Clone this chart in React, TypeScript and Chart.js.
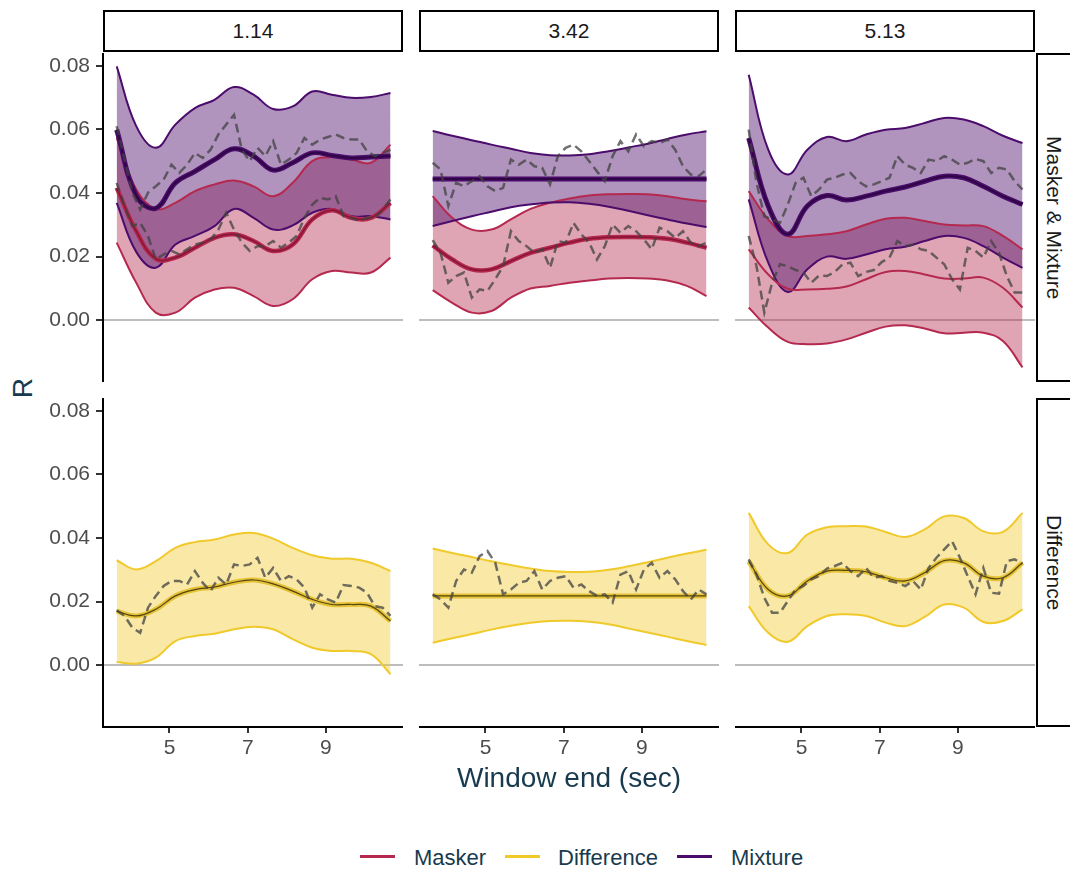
import React, { useEffect, useRef } from "react";
import { Chart, registerables } from "chart.js";

Chart.register(...registerables);

const FONT = '"Liberation Sans", Arial, Helvetica, sans-serif';
Chart.defaults.font.family = FONT;

// ---------- categories / ticks ----------
const facetColumns = ["1.14", "3.42", "5.13"];
const facetRows = ["Masker & Mixture", "Difference"];
const legendLabels = ["Masker", "Difference", "Mixture"];
const xTickValues = [5, 7, 9];
const yTickValues = [0, 0.02, 0.04, 0.06, 0.08];
const xTitle = "Window end (sec)";
const yTitle = "R";

// ---------- x positions ----------
const smoothX = [3.65, 4.15, 4.65, 5.15, 5.65, 6.15, 6.65, 7.15, 7.65, 8.15, 8.65, 9.15, 9.65, 10.15, 10.65];
const rawX = [
  3.65, 3.85, 4.05, 4.25, 4.45, 4.65, 4.85, 5.05, 5.25, 5.45,
  5.65, 5.85, 6.05, 6.25, 6.45, 6.65, 6.85, 7.05, 7.25, 7.45,
  7.65, 7.85, 8.05, 8.25, 8.45, 8.65, 8.85, 9.05, 9.25, 9.45,
  9.65, 9.85, 10.05, 10.25, 10.45, 10.65,
];

// ---------- facet 1.14 ----------
const mixUp114 = [0.0798, 0.061, 0.0542, 0.0615, 0.0667, 0.0693, 0.0733, 0.0709, 0.0664, 0.0672, 0.0719, 0.0709, 0.0699, 0.0702, 0.0714];
const mixMean114 = [0.0599, 0.0392, 0.0352, 0.0432, 0.0468, 0.0505, 0.0539, 0.0516, 0.0472, 0.0495, 0.0526, 0.0518, 0.051, 0.0513, 0.0516];
const mixLow114 = [0.0369, 0.0215, 0.0165, 0.0238, 0.0265, 0.0296, 0.035, 0.0322, 0.0285, 0.0298, 0.0338, 0.035, 0.0327, 0.0327, 0.0317];
const maskUp114 = [0.0573, 0.0411, 0.035, 0.0369, 0.0406, 0.0427, 0.0439, 0.0421, 0.039, 0.0432, 0.05, 0.0513, 0.0505, 0.0495, 0.0552];
const maskMean114 = [0.0416, 0.028, 0.0193, 0.0197, 0.0228, 0.0259, 0.027, 0.0249, 0.0218, 0.0238, 0.0317, 0.0346, 0.0322, 0.0322, 0.0369];
const maskLow114 = [0.0244, 0.0118, 0.0024, 0.0024, 0.0071, 0.0097, 0.0102, 0.0076, 0.0045, 0.0066, 0.0129, 0.0155, 0.015, 0.015, 0.0197];
const mixRaw114 = [
  0.061, 0.0505, 0.0401, 0.0348, 0.0401, 0.0421, 0.0442, 0.0489, 0.0463, 0.0489,
  0.0526, 0.051, 0.0536, 0.0584, 0.0615, 0.0646, 0.0536, 0.05, 0.0542, 0.0516,
  0.0563, 0.0489, 0.0505, 0.0526, 0.0573, 0.0552, 0.0568, 0.0576, 0.0584, 0.0573,
  0.0568, 0.0568, 0.0531, 0.0516, 0.0526, 0.0536,
];
const maskRaw114 = [
  0.0432, 0.0359, 0.0296, 0.0306, 0.0265, 0.0191, 0.0207, 0.0218, 0.0207, 0.0223,
  0.0238, 0.0244, 0.0254, 0.0285, 0.0338, 0.0285, 0.0244, 0.0218, 0.0233, 0.0233,
  0.0249, 0.0228, 0.0244, 0.0265, 0.0322, 0.0364, 0.0385, 0.038, 0.039, 0.0327,
  0.0322, 0.0312, 0.0322, 0.0322, 0.0348, 0.038,
];

// ---------- facet 3.42 ----------
const mixUp342 = [0.0595, 0.058, 0.0566, 0.0552, 0.0539, 0.0526, 0.0519, 0.0518, 0.0522, 0.0531, 0.0543, 0.0555, 0.057, 0.0584, 0.0594];
const mixMean342 = [0.0444, 0.0444, 0.0444, 0.0444, 0.0444, 0.0444, 0.0444, 0.0444, 0.0444, 0.0444, 0.0444, 0.0444, 0.0444, 0.0444, 0.0444];
const mixLow342 = [0.0296, 0.0312, 0.0327, 0.0341, 0.0355, 0.0364, 0.037, 0.0371, 0.0366, 0.0357, 0.0344, 0.033, 0.0317, 0.0304, 0.0293];
const maskUp342 = [0.039, 0.0322, 0.0285, 0.0285, 0.0317, 0.035, 0.0369, 0.0383, 0.0392, 0.0396, 0.0397, 0.0396, 0.039, 0.038, 0.0374];
const maskMean342 = [0.0235, 0.0191, 0.016, 0.016, 0.0186, 0.0212, 0.0228, 0.0244, 0.0256, 0.0261, 0.0262, 0.0261, 0.0256, 0.0244, 0.0228];
const maskLow342 = [0.0095, 0.0055, 0.0024, 0.0029, 0.0071, 0.01, 0.0108, 0.0118, 0.0125, 0.0131, 0.0133, 0.0131, 0.0125, 0.0108, 0.0076];
const mixRaw342 = [
  0.0495, 0.0474, 0.0359, 0.0432, 0.0421, 0.0437, 0.0453, 0.0421, 0.0406, 0.0416,
  0.0505, 0.0489, 0.0505, 0.0484, 0.0479, 0.0427, 0.0516, 0.0542, 0.0552, 0.0531,
  0.05, 0.0468, 0.0437, 0.0516, 0.0563, 0.0531, 0.0584, 0.0547, 0.0563, 0.0557,
  0.0568, 0.0536, 0.0484, 0.0458, 0.0453, 0.0474,
];
const maskRaw342 = [
  0.0252, 0.0212, 0.0118, 0.0139, 0.015, 0.0071, 0.0097, 0.0092, 0.0129, 0.017,
  0.028, 0.0249, 0.0233, 0.0212, 0.0223, 0.0165, 0.0249, 0.0244, 0.0306, 0.027,
  0.0244, 0.0191, 0.0233, 0.0301, 0.0275, 0.0296, 0.028, 0.0254, 0.0223, 0.0291,
  0.028, 0.0259, 0.028, 0.0244, 0.0233, 0.0244,
];

// ---------- facet 5.13 ----------
const mixUp513 = [0.0772, 0.0536, 0.0458, 0.0536, 0.0576, 0.0563, 0.0584, 0.0599, 0.0604, 0.062, 0.0636, 0.0631, 0.061, 0.058, 0.0557];
const mixMean513 = [0.0573, 0.0359, 0.027, 0.0359, 0.0392, 0.0378, 0.039, 0.0406, 0.0419, 0.0437, 0.0453, 0.0448, 0.0421, 0.039, 0.0364];
const mixLow513 = [0.038, 0.0181, 0.0089, 0.016, 0.02, 0.0193, 0.0207, 0.0223, 0.0231, 0.0249, 0.0265, 0.0259, 0.0233, 0.0197, 0.0165];
const maskUp513 = [0.0406, 0.0317, 0.0265, 0.0265, 0.027, 0.028, 0.0301, 0.0319, 0.0322, 0.0312, 0.0301, 0.0298, 0.0296, 0.0265, 0.0223];
const maskMean513 = [0.0223, 0.0144, 0.0099, 0.0097, 0.0099, 0.0106, 0.0129, 0.0152, 0.0155, 0.0144, 0.0131, 0.0131, 0.0134, 0.0102, 0.004];
const maskLow513 = [0.004, -0.0023, -0.0068, -0.0075, -0.0073, -0.006, -0.0039, -0.002, -0.0016, -0.0026, -0.0041, -0.0039, -0.0039, -0.0065, -0.0148];
const mixRaw513 = [
  0.0599, 0.0432, 0.0327, 0.0317, 0.0306, 0.0364, 0.0432, 0.0448, 0.039, 0.0411,
  0.0442, 0.0448, 0.0458, 0.0463, 0.0437, 0.0421, 0.0427, 0.0437, 0.0448, 0.0516,
  0.0489, 0.0479, 0.0463, 0.0505, 0.05, 0.0516, 0.0505, 0.0489, 0.0495, 0.0507,
  0.05, 0.0463, 0.0479, 0.0474, 0.0437, 0.0411,
];
const maskRaw513 = [
  0.0265, 0.017, 0.0024, 0.0118, 0.0176, 0.017, 0.0158, 0.015, 0.0118, 0.0141,
  0.0139, 0.0152, 0.0176, 0.0181, 0.0139, 0.0152, 0.0158, 0.0183, 0.0197, 0.0249,
  0.0233, 0.0238, 0.0223, 0.0218, 0.0197, 0.0176, 0.0129, 0.0097, 0.0228, 0.0218,
  0.0197, 0.0249, 0.0212, 0.0139, 0.0087, 0.0087,
];

// ---------- Difference ----------
const diffUp114 = [0.033, 0.0301, 0.0327, 0.0369, 0.0387, 0.0395, 0.0411, 0.0416, 0.0398, 0.0369, 0.0346, 0.0335, 0.0335, 0.0322, 0.0296];
const diffMean114 = [0.017, 0.0155, 0.0176, 0.0218, 0.0238, 0.0246, 0.0261, 0.0268, 0.0256, 0.0233, 0.0207, 0.0191, 0.0191, 0.0186, 0.0139];
const diffLow114 = [0.001, 0.0005, 0.0024, 0.0076, 0.0092, 0.0099, 0.0113, 0.0121, 0.0113, 0.0082, 0.0055, 0.0045, 0.0045, 0.0035, -0.0028];
const diffRaw114 = [
  0.0173, 0.0155, 0.0118, 0.0102, 0.0181, 0.0218, 0.0249, 0.0265, 0.0265, 0.0254,
  0.0296, 0.0259, 0.0233, 0.0275, 0.0254, 0.0317, 0.0312, 0.0317, 0.0338, 0.0275,
  0.0306, 0.0265, 0.028, 0.027, 0.0244, 0.0181, 0.0223, 0.0207, 0.0197, 0.0252,
  0.0249, 0.0244, 0.0228, 0.0186, 0.0181, 0.0155,
];
const diffUp342 = [0.0367, 0.0353, 0.034, 0.0327, 0.0315, 0.0304, 0.0296, 0.0293, 0.0294, 0.03, 0.0311, 0.0324, 0.0338, 0.0351, 0.0363];
const diffMean342 = [0.0218, 0.0218, 0.0218, 0.0218, 0.0218, 0.0218, 0.0218, 0.0218, 0.0218, 0.0218, 0.0218, 0.0218, 0.0218, 0.0218, 0.0218];
const diffLow342 = [0.0071, 0.0085, 0.0098, 0.0112, 0.0124, 0.0134, 0.0139, 0.014, 0.0137, 0.0129, 0.0116, 0.0103, 0.009, 0.0076, 0.0064];
const diffRaw342 = [
  0.0223, 0.0207, 0.0181, 0.0265, 0.0301, 0.0291, 0.0343, 0.0359, 0.0322, 0.0223,
  0.0238, 0.0259, 0.0265, 0.0296, 0.0238, 0.0265, 0.0275, 0.028, 0.0244, 0.0254,
  0.0233, 0.0218, 0.0223, 0.0197, 0.0285, 0.0296, 0.0238, 0.0301, 0.0322, 0.0275,
  0.0296, 0.027, 0.0233, 0.0207, 0.0238, 0.0223,
];
const diffUp513 = [0.0479, 0.038, 0.0353, 0.0411, 0.0434, 0.0437, 0.0436, 0.0419, 0.0403, 0.0427, 0.0468, 0.0463, 0.0421, 0.0419, 0.0479];
const diffMean513 = [0.0327, 0.0238, 0.0218, 0.0265, 0.0296, 0.0298, 0.0294, 0.0275, 0.0265, 0.0291, 0.0329, 0.0322, 0.028, 0.0275, 0.0322];
const diffLow513 = [0.0186, 0.0102, 0.0074, 0.0123, 0.0155, 0.016, 0.0155, 0.0134, 0.0123, 0.0152, 0.0191, 0.0181, 0.0136, 0.0139, 0.0176];
const diffRaw513 = [
  0.0333, 0.0285, 0.0212, 0.0165, 0.0165, 0.0202, 0.0238, 0.0249, 0.027, 0.028,
  0.0304, 0.0312, 0.0322, 0.0296, 0.028, 0.0306, 0.0275, 0.028, 0.0265, 0.0259,
  0.0249, 0.0265, 0.0238, 0.0306, 0.0338, 0.0364, 0.039, 0.0338, 0.028, 0.0223,
  0.0306, 0.0228, 0.0225, 0.0327, 0.0333, 0.0319,
];

// ---------- styling / layout ----------
const MASKER = "#b5294f";
const MIXTURE = "#4b0c6b";
const DIFF = "#f0c92b";
const MASKER_FILL = "rgba(181,41,79,0.42)";
const MIXTURE_FILL = "rgba(75,12,107,0.44)";
const DIFF_FILL = "rgba(240,201,43,0.42)";
const RAW_COLOR = "rgba(65,65,65,0.75)";
const TITLE_COLOR = "#173a4e";
const TICK_COLOR = "#4d4d4d";

const X_MIN = 3.3;
const X_MAX = 10.97;
const Y_MIN = -0.0194;
const Y_MAX = 0.084;

const COL_LEFT = [103, 419, 735];
const PANEL_W = 300;
const ROW_TOP = [53, 398];
const PANEL_H = 329;
const Y_AXIS_W = 63;
const X_AXIS_H = 60;

type Pt = { x: number; y: number };
const pts = (xs: number[], ys: number[]): Pt[] => xs.map((x, i) => ({ x, y: ys[i] }));

const smooth = (data: Pt[], color: string, width: number, extra: any = {}) => ({
  data,
  borderColor: color,
  backgroundColor: color,
  borderWidth: width,
  pointRadius: 0,
  pointHoverRadius: 0,
  tension: 0.4,
  fill: false,
  ...extra,
});
const raw = (data: Pt[]) => ({
  data,
  borderColor: RAW_COLOR,
  borderWidth: 2.5,
  borderDash: [9, 5],
  pointRadius: 0,
  pointHoverRadius: 0,
  tension: 0,
  fill: false,
});

function mmDatasets(
  mixUp: number[], mixMean: number[], mixLow: number[],
  maskUp: number[], maskMean: number[], maskLow: number[],
  mixRaw: number[], maskRaw: number[], maskBold: boolean
) {
  const list: any[] = [];
  list.push(raw(pts(rawX, maskRaw)));
  list.push(raw(pts(rawX, mixRaw)));
  list.push(smooth(pts(smoothX, mixMean), "rgba(25,0,40,0.55)", 2));
  list.push(smooth(pts(smoothX, mixMean), MIXTURE, 5));
  if (maskBold) {
    list.push(smooth(pts(smoothX, maskMean), "rgba(95,0,30,0.5)", 1.6));
    list.push(smooth(pts(smoothX, maskMean), MASKER, 4.5));
  } else {
    list.push(smooth(pts(smoothX, maskMean), MASKER, 2));
  }
  list.push(smooth(pts(smoothX, mixUp), MIXTURE, 2, { fill: "+1", backgroundColor: MIXTURE_FILL }));
  list.push(smooth(pts(smoothX, mixLow), MIXTURE, 2));
  list.push(smooth(pts(smoothX, maskUp), MASKER, 2, { fill: "+1", backgroundColor: MASKER_FILL }));
  list.push(smooth(pts(smoothX, maskLow), MASKER, 2));
  return list;
}

function diffDatasets(up: number[], mean: number[], low: number[], rawY: number[]) {
  return [
    raw(pts(rawX, rawY)),
    smooth(pts(smoothX, mean), "rgba(35,28,0,0.75)", 1.2),
    smooth(pts(smoothX, mean), "#e6c236", 5),
    smooth(pts(smoothX, up), DIFF, 2, { fill: "+1", backgroundColor: DIFF_FILL }),
    smooth(pts(smoothX, low), DIFF, 2),
  ];
}

const panels = [
  { row: 0, col: 0, datasets: () => mmDatasets(mixUp114, mixMean114, mixLow114, maskUp114, maskMean114, maskLow114, mixRaw114, maskRaw114, true) },
  { row: 0, col: 1, datasets: () => mmDatasets(mixUp342, mixMean342, mixLow342, maskUp342, maskMean342, maskLow342, mixRaw342, maskRaw342, true) },
  { row: 0, col: 2, datasets: () => mmDatasets(mixUp513, mixMean513, mixLow513, maskUp513, maskMean513, maskLow513, mixRaw513, maskRaw513, false) },
  { row: 1, col: 0, datasets: () => diffDatasets(diffUp114, diffMean114, diffLow114, diffRaw114) },
  { row: 1, col: 1, datasets: () => diffDatasets(diffUp342, diffMean342, diffLow342, diffRaw342) },
  { row: 1, col: 2, datasets: () => diffDatasets(diffUp513, diffMean513, diffLow513, diffRaw513) },
];

function makeOptions(showX: boolean, showY: boolean): any {
  return {
    animation: false,
    responsive: false,
    maintainAspectRatio: false,
    devicePixelRatio: 1,
    events: [],
    layout: { padding: 0 },
    plugins: {
      legend: { display: false },
      tooltip: { enabled: false },
      filler: { drawTime: "beforeDatasetsDraw", propagate: false },
    },
    scales: {
      x: {
        type: "linear",
        position: "bottom",
        min: X_MIN,
        max: X_MAX,
        display: showX,
        afterBuildTicks: (s: any) => {
          s.ticks = xTickValues.map((v) => ({ value: v }));
        },
        afterFit: (s: any) => {
          s.height = showX ? X_AXIS_H : 0;
          s.paddingLeft = 0;
          s.paddingRight = 0;
          s.paddingTop = 0;
          s.paddingBottom = 0;
        },
        grid: {
          drawOnChartArea: false,
          drawTicks: true,
          tickLength: 6,
          tickColor: "#333333",
          lineWidth: 2,
          color: "rgba(0,0,0,0)",
        },
        border: { display: true, color: "#000000", width: 2 },
        ticks: {
          color: TICK_COLOR,
          font: { size: 21, family: FONT },
          padding: 3,
          autoSkip: false,
          maxRotation: 0,
          callback: (v: any) => String(v),
        },
      },
      y: {
        type: "linear",
        position: "left",
        min: Y_MIN,
        max: Y_MAX,
        display: true,
        afterBuildTicks: (s: any) => {
          s.ticks = yTickValues.map((v) => ({ value: v }));
        },
        afterFit: (s: any) => {
          s.width = showY ? Y_AXIS_W : 0;
          s.paddingTop = 0;
          s.paddingBottom = 0;
          s.paddingLeft = 0;
          s.paddingRight = 0;
        },
        grid: {
          drawOnChartArea: true,
          drawTicks: showY,
          tickLength: 7,
          tickColor: "#333333",
          lineWidth: 2,
          color: (ctx: any) => (ctx.tick && ctx.tick.value === 0 ? "#bdbdbd" : "rgba(0,0,0,0)"),
        },
        border: { display: showY, color: "#000000", width: 2 },
        ticks: {
          display: showY,
          color: TICK_COLOR,
          font: { size: 21, family: FONT },
          padding: 6,
          autoSkip: false,
          callback: (v: any) => Number(v).toFixed(2),
        },
      },
    },
  };
}

function Panel({ spec }: { spec: { row: number; col: number; datasets: () => any[] } }) {
  const ref = useRef<HTMLCanvasElement | null>(null);
  const showY = spec.col === 0;
  const showX = spec.row === 1;
  const left = COL_LEFT[spec.col] - (showY ? Y_AXIS_W : 0);
  const top = ROW_TOP[spec.row];
  const width = PANEL_W + (showY ? Y_AXIS_W : 0);
  const height = PANEL_H + (showX ? X_AXIS_H : 0);

  useEffect(() => {
    if (!ref.current) return;
    const chart = new Chart(ref.current, {
      type: "line",
      data: { datasets: spec.datasets() },
      options: makeOptions(showX, showY),
    } as any);
    return () => chart.destroy();
  }, []);

  return (
    <canvas
      ref={ref}
      width={width}
      height={height}
      style={{ position: "absolute", left, top, width, height, display: "block" }}
    />
  );
}

const legendColors = [MASKER, DIFF, MIXTURE];
const legendLineX = [360, 505, 677];
const legendTextX = [414, 558, 731];

export default function App() {
  return (
    <div
      style={{
        position: "fixed",
        left: 0,
        top: 0,
        width: 1070,
        height: 870,
        background: "#ffffff",
        overflow: "hidden",
        fontFamily: FONT,
      }}
    >
      {panels.map((p, i) => (
        <Panel key={i} spec={p} />
      ))}

      {facetColumns.map((label, c) => (
        <div
          key={"strip-top-" + c}
          style={{
            position: "absolute",
            left: COL_LEFT[c],
            top: 10,
            width: PANEL_W,
            height: 42,
            boxSizing: "border-box",
            border: "2px solid #000",
            display: "flex",
            alignItems: "center",
            justifyContent: "center",
            fontSize: 21,
            color: "#1a1a1a",
          }}
        >
          {label}
        </div>
      ))}

      {facetRows.map((label, r) => (
        <div
          key={"strip-right-" + r}
          style={{
            position: "absolute",
            left: 1036,
            top: ROW_TOP[r],
            width: 36,
            height: PANEL_H,
            boxSizing: "border-box",
            border: "2px solid #000",
            display: "flex",
            alignItems: "center",
            justifyContent: "center",
            fontSize: 21,
            color: "#1a1a1a",
          }}
        >
          <span style={{ writingMode: "vertical-rl", whiteSpace: "nowrap" }}>{label}</span>
        </div>
      ))}

      <div
        style={{
          position: "absolute",
          left: 23 - 40,
          top: 388 - 16,
          width: 80,
          height: 32,
          lineHeight: "32px",
          textAlign: "center",
          transform: "rotate(-90deg)",
          fontSize: 28,
          color: TITLE_COLOR,
        }}
      >
        {yTitle}
      </div>

      <div
        style={{
          position: "absolute",
          left: 569 - 200,
          top: 778 - 16,
          width: 400,
          height: 32,
          lineHeight: "32px",
          textAlign: "center",
          fontSize: 28,
          color: TITLE_COLOR,
          whiteSpace: "nowrap",
        }}
      >
        {xTitle}
      </div>

      {legendLabels.map((label, i) => (
        <React.Fragment key={"leg-" + i}>
          <div
            style={{
              position: "absolute",
              left: legendLineX[i],
              top: 856 - 1.5,
              width: 35,
              height: 3,
              background: legendColors[i],
            }}
          />
          <div
            style={{
              position: "absolute",
              left: legendTextX[i],
              top: 858 - 14,
              height: 28,
              lineHeight: "28px",
              fontSize: 22,
              color: TITLE_COLOR,
              whiteSpace: "nowrap",
            }}
          >
            {label}
          </div>
        </React.Fragment>
      ))}
    </div>
  );
}
